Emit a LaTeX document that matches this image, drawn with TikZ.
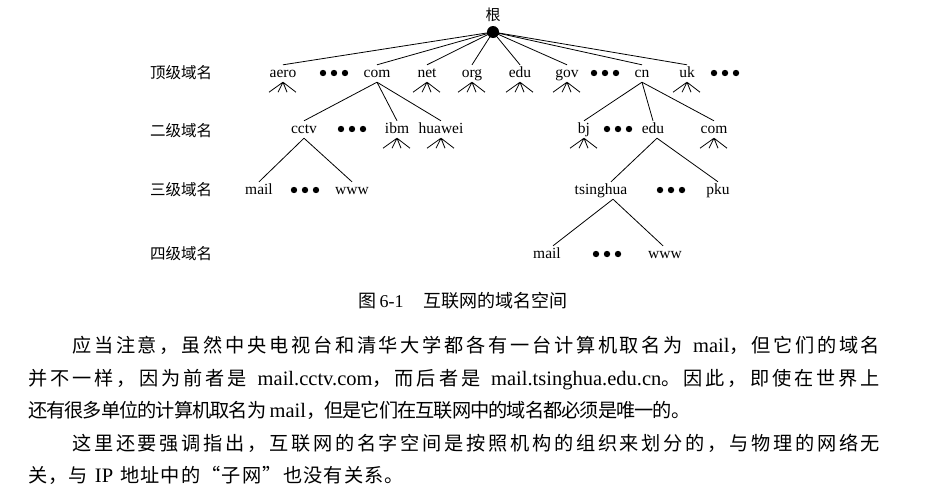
\documentclass[tikz,border=0pt]{standalone}
\usepackage{fontspec}
\setmainfont{Noto Sans CJK SC}
\newfontfamily\lat{Liberation Serif}
\newcommand\bl[1]{{\lat\fontsize{20.5}{22}\selectfont #1}}
% stretchable glue between CJK characters (for justified lines)
\newXeTeXintercharclass\cjkclass
\newcount\mycnt
\def\setcls#1#2{\mycnt=#1\relax\loop\XeTeXcharclass\mycnt=\cjkclass\relax\ifnum\mycnt<#2\relax\advance\mycnt by 1\relax\repeat}
\setcls{"3000}{"303F}
\setcls{"4E00}{"9FFF}
\setcls{"FF00}{"FF5E}
\XeTeXcharclass"201C=\cjkclass
\XeTeXcharclass"201D=\cjkclass
\XeTeXinterchartoks\cjkclass\cjkclass={\hskip 0pt plus 1pt minus 1pt\relax}
\XeTeXinterchartokenstate=1
\begin{document}
\begin{tikzpicture}[x=1pt,y=-1pt,
  lab/.style={font=\lat\fontsize{15.5}{16}\selectfont, anchor=base, inner sep=2pt, text height=10pt, text depth=3pt},
  lvl/.style={font=\fontsize{15.5}{16}\selectfont, inner sep=0pt},
  body/.style={font=\fontsize{19.2}{22}\selectfont, anchor=base west, inner sep=0pt},
  edge/.style={line width=0.8pt},
  threedots/.pic={\foreach \i in {-11,0,11} \fill (\i,0) circle (3.2);},
  fan/.pic={\draw[edge] (0,0) -- (-14,10) (0,0) -- (-5,10) (0,0) -- (4,10) (0,0) -- (13,10);}
]
\useasboundingbox[fill=white] (0,0) rectangle (928,498);

% root
\node[lvl, font=\fontsize{15}{15}\selectfont] (gen) at (493,15) {根};
\node[circle, fill, inner sep=0pt, minimum size=12pt] (root) at (493,32) {};

% level labels
\node[lvl] (l1) at (181,73) {顶级域名};
\node[lvl] (l2) at (181,131) {二级域名};
\node[lvl] (l3) at (181,190) {三级域名};
\node[lvl] (l4) at (181,254) {四级域名};

% level 1
\node[lab] (aero) at (283,77) {aero};
\node[lab] (com) at (377,77) {com};
\node[lab] (net) at (427,77) {net};
\node[lab] (org) at (472,77) {org};
\node[lab] (edu) at (520,77) {edu};
\node[lab] (gov) at (567,77) {gov};
\node[lab] (cn) at (642,77) {cn};
\node[lab] (uk) at (687,77) {uk};
\pic at (334,73) {threedots};
\pic at (605,73) {threedots};
\pic at (725,73) {threedots};

% level 2
\node[lab] (cctv) at (304,133) {cctv};
\node[lab] (ibm) at (397,133) {ibm};
\node[lab] (huawei) at (441,133) {huawei};
\node[lab] (bj) at (584,133) {bj};
\node[lab] (edu2) at (653,133) {edu};
\node[lab] (com2) at (714,133) {com};
\pic at (352,129) {threedots};
\pic at (618,129) {threedots};

% level 3
\node[lab] (mail3) at (259,194) {mail};
\node[lab] (www3) at (352,194) {www};
\node[lab] (tsinghua) at (601,194) {tsinghua};
\node[lab] (pku) at (718,194) {pku};
\pic at (305,190) {threedots};
\pic at (671,190) {threedots};

% level 4
\node[lab] (mail4) at (547,258) {mail};
\node[lab] (www4) at (665,258) {www};
\pic at (607,254) {threedots};

% connectors from root
\foreach \n in {aero,com,net,org,edu,gov,cn,uk}
  \draw[edge] (root.center) -- (\n.north);
% com children
\foreach \n in {cctv,ibm,huawei}
  \draw[edge] (com.south) -- (\n.north);
% cn children
\foreach \n in {bj,edu2,com2}
  \draw[edge] (cn.south) -- (\n.north);
% cctv children
\draw[edge] (cctv.south) -- (mail3.north);
\draw[edge] (cctv.south) -- (www3.north);
% edu children
\draw[edge] ([xshift=4pt]edu2.south) -- ([xshift=10pt]tsinghua.north);
\draw[edge] ([xshift=4pt]edu2.south) -- (pku.north);
% tsinghua children
\draw[edge] ([xshift=12pt]tsinghua.south) -- ([xshift=6pt]mail4.north);
\draw[edge] ([xshift=12pt]tsinghua.south) -- ([xshift=-2pt]www4.north);

% fans
\foreach \n in {aero,net,org,edu,gov,uk,ibm,huawei,bj,com2}
  \pic at (\n.south) {fan};

% caption
\node[font=\fontsize{18}{18}\selectfont, inner sep=0pt] (cap) at (463,301)
  {图\,{\lat 6-1}\hspace{1.1em}互联网的域名空间};

% body text
\node[body] (p1) at (72,352.5) {\hbox to 808pt{应当注意，虽然中央电视台和清华大学都各有一台计算机取名为 \bl{mail}，但它们的域名}};
\node[body] (p2) at (28,385) {\hbox to 852pt{并不一样，因为前者是 \bl{mail.cctv.com}，而后者是 \bl{mail.tsinghua.edu.cn}。因此，即使在世界上}};
\node[body] (p3) at (28,417.5) {\hbox to 662pt{还有很多单位的计算机取名为\,\bl{mail}，但是它们在互联网中的域名都必须是唯一的。}};
\node[body] (p4) at (72,450) {\hbox to 808pt{这里还要强调指出，互联网的名字空间是按照机构的组织来划分的，与物理的网络无}};
\node[body] (p5) at (28,482.5) {\hbox to 376pt{关，与 \bl{IP} 地址中的“子网”也没有关系。}};
\end{tikzpicture}
\end{document}
